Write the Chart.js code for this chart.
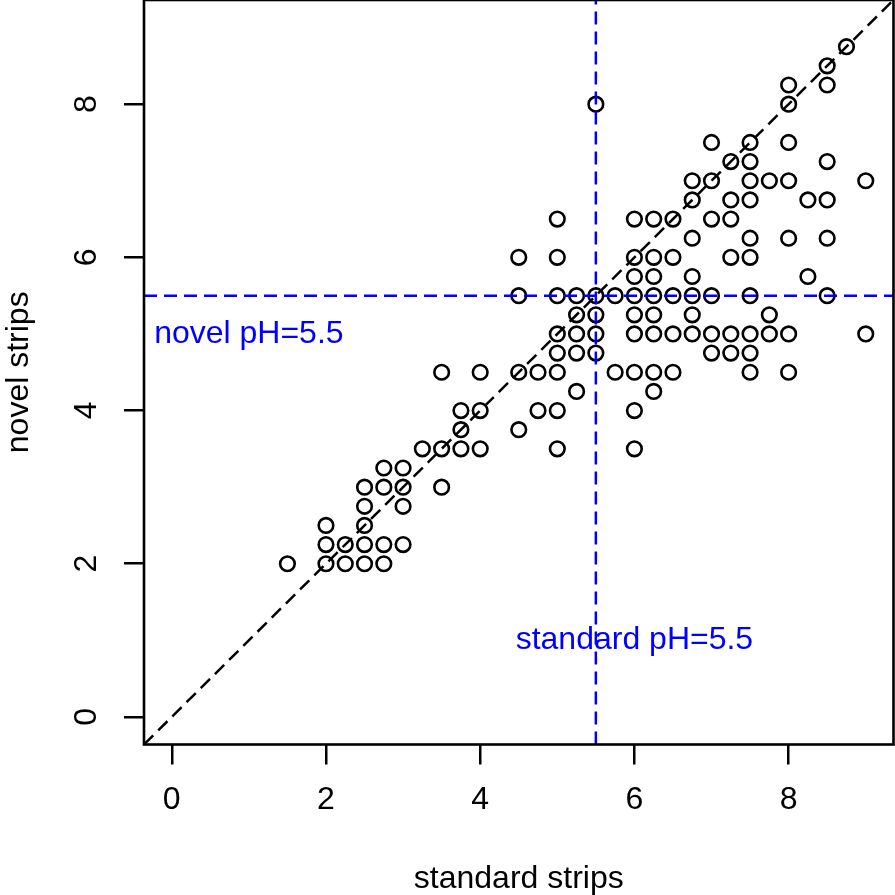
<!DOCTYPE html>
<html>
<head>
<meta charset="utf-8">
<script src="https://cdn.jsdelivr.net/npm/chart.js@4.4.1/dist/chart.umd.min.js"></script>
<style>
  html, body { margin: 0; padding: 0; background: #fff; }
</style>
</head>
<body>
<canvas id="myChart" width="895" height="895"></canvas>
<script>
// strip readings, one entry per sample (standard strip, novel strip)
const standardStrips = [
  1.5,
  2, 2, 2,
  2.25, 2.25,
  2.5, 2.5, 2.5, 2.5, 2.5,
  2.75, 2.75, 2.75, 2.75,
  3, 3, 3, 3,
  3.25,
  3.5, 3.5, 3.5,
  3.75, 3.75, 3.75,
  4, 4, 4,
  4.5, 4.5, 4.5, 4.5,
  4.75, 4.75,
  5, 5, 5, 5, 5, 5, 5, 5,
  5.25, 5.25, 5.25, 5.25, 5.25,
  5.5, 5.5, 5.5, 5.5, 5.5,
  5.75, 5.75,
  6, 6, 6, 6, 6, 6, 6, 6, 6,
  6.25, 6.25, 6.25, 6.25, 6.25, 6.25, 6.25, 6.25,
  6.5, 6.5, 6.5, 6.5, 6.5,
  6.75, 6.75, 6.75, 6.75, 6.75, 6.75, 6.75,
  7, 7, 7, 7, 7, 7,
  7.25, 7.25, 7.25, 7.25, 7.25, 7.25,
  7.5, 7.5, 7.5, 7.5, 7.5, 7.5, 7.5, 7.5, 7.5, 7.5,
  7.75, 7.75, 7.75,
  8, 8, 8, 8, 8, 8, 8,
  8.25, 8.25,
  8.5, 8.5, 8.5, 8.5, 8.5, 8.5,
  8.75,
  9, 9
];
const novelStrips = [
  2,
  2, 2.25, 2.5,
  2, 2.25,
  2, 2.25, 2.5, 2.75, 3,
  2, 2.25, 3, 3.25,
  2.25, 2.75, 3, 3.25,
  3.5,
  3, 3.5, 4.5,
  3.5, 3.75, 4,
  3.5, 4, 4.5,
  3.75, 4.5, 5.5, 6,
  4, 4.5,
  3.5, 4, 4.5, 4.75, 5, 5.5, 6, 6.5,
  4.25, 4.75, 5, 5.25, 5.5,
  4.75, 5, 5.25, 5.5, 8,
  4.5, 5.5,
  3.5, 4, 4.5, 5, 5.25, 5.5, 5.75, 6, 6.5,
  4.25, 4.5, 5, 5.25, 5.5, 5.75, 6, 6.5,
  4.5, 5, 5.5, 6, 6.5,
  5, 5.25, 5.5, 5.75, 6.25, 6.75, 7,
  4.75, 5, 5.5, 6.5, 7, 7.5,
  4.75, 5, 6, 6.5, 6.75, 7.25,
  4.5, 4.75, 5, 5.5, 6, 6.25, 6.75, 7, 7.25, 7.5,
  5, 5.25, 7,
  4.5, 5, 6.25, 7, 7.5, 8, 8.25,
  5.75, 6.75,
  5.5, 6.25, 6.75, 7.25, 8.25, 8.5,
  8.75,
  5, 7
];

const xTicks = [0, 2, 4, 6, 8];
const yTicks = [0, 2, 4, 6, 8];
const axisMin = -0.36;
const axisMax = 9.36;
const phCut = 5.5;

const noteText = ['novel pH=5.5', 'standard pH=5.5'];
const noteX = [1, 6];
const noteY = [5, 1];

const FONT = 'Liberation Sans, Arial, Helvetica, sans-serif';
const FSIZE = 32;
const DASH = [13, 7];

const points = standardStrips.map((x, i) => ({ x: x, y: novelStrips[i] }));

// box round the plot area, like R's bty="o"
const boxPlugin = {
  id: 'box',
  afterDraw(chart) {
    const a = chart.chartArea;
    const ctx = chart.ctx;
    ctx.save();
    ctx.strokeStyle = '#000';
    ctx.lineWidth = 2.6;
    ctx.strokeRect(a.left, a.top, a.right - a.left, a.bottom - a.top);
    ctx.restore();
  }
};

const notePlugin = {
  id: 'notes',
  afterDatasetsDraw(chart) {
    const ctx = chart.ctx;
    const xs = chart.scales.x, ys = chart.scales.y;
    ctx.save();
    ctx.fillStyle = '#0000FF';
    ctx.font = FSIZE + 'px ' + FONT;
    ctx.textAlign = 'center';
    ctx.textBaseline = 'middle';
    noteText.forEach((t, i) => {
      ctx.fillText(t, xs.getPixelForValue(noteX[i]), ys.getPixelForValue(noteY[i]));
    });
    ctx.restore();
  }
};

const ctx = document.getElementById('myChart');
new Chart(ctx, {
  type: 'scatter',
  data: {
    datasets: [
      {
        data: points,
        showLine: false,
        pointStyle: 'circle',
        pointRadius: 7.3,
        pointBorderWidth: 2.6,
        pointBorderColor: '#000',
        pointBackgroundColor: 'rgba(0,0,0,0)',
        order: 3
      },
      {
        data: [{ x: axisMin, y: axisMin }, { x: axisMax, y: axisMax }],
        showLine: true,
        pointRadius: 0,
        borderColor: '#000',
        borderWidth: 2.5,
        borderDash: DASH,
        order: 2
      },
      {
        data: [{ x: axisMin, y: phCut }, { x: axisMax, y: phCut }],
        showLine: true,
        pointRadius: 0,
        borderColor: '#0000FF',
        borderWidth: 2.5,
        borderDash: DASH,
        order: 1
      },
      {
        data: [{ x: phCut, y: axisMin }, { x: phCut, y: axisMax }],
        showLine: true,
        pointRadius: 0,
        borderColor: '#0000FF',
        borderWidth: 2.5,
        borderDash: DASH,
        order: 1
      }
    ]
  },
  options: {
    responsive: false,
    animation: false,
    devicePixelRatio: 1,
    layout: { autoPadding: false, padding: { left: 0, right: 1.5, top: 0, bottom: 0 } },
    plugins: {
      legend: { display: false },
      tooltip: { enabled: false }
    },
    scales: {
      x: {
        type: 'linear',
        min: axisMin,
        max: axisMax,
        afterBuildTicks: (s) => { s.ticks = xTicks.map(v => ({ value: v })); },
        afterFit: (s) => { s.height = 150.5; s.paddingLeft = 0; s.paddingRight = 0; },
        grid: { drawOnChartArea: false, drawTicks: true, tickLength: 20, color: '#000', lineWidth: 2.5 },
        border: { display: false },
        ticks: {
          color: '#000',
          font: { family: FONT, size: FSIZE },
          padding: 16,
          maxRotation: 0,
          autoSkip: false
        },
        title: {
          display: true,
          text: 'standard strips',
          color: '#000',
          font: { family: FONT, size: FSIZE },
          padding: { top: 0, bottom: -3 }
        }
      },
      y: {
        type: 'linear',
        min: axisMin,
        max: axisMax,
        afterBuildTicks: (s) => { s.ticks = yTicks.map(v => ({ value: v })); },
        afterFit: (s) => { s.width = 144; s.paddingTop = 0; s.paddingBottom = 0; },
        grid: { drawOnChartArea: false, drawTicks: true, tickLength: 20, color: '#000', lineWidth: 2.5 },
        border: { display: false },
        ticks: {
          color: '#000',
          font: { family: FONT, size: FSIZE },
          padding: 37,
          minRotation: 90,
          maxRotation: 90,
          labelOffset: -9,
          autoSkip: false
        },
        title: {
          display: true,
          text: 'novel strips',
          color: '#000',
          font: { family: FONT, size: FSIZE },
          padding: { top: 0, bottom: 0 }
        }
      }
    }
  },
  plugins: [boxPlugin, notePlugin]
});
</script>
</body>
</html>
